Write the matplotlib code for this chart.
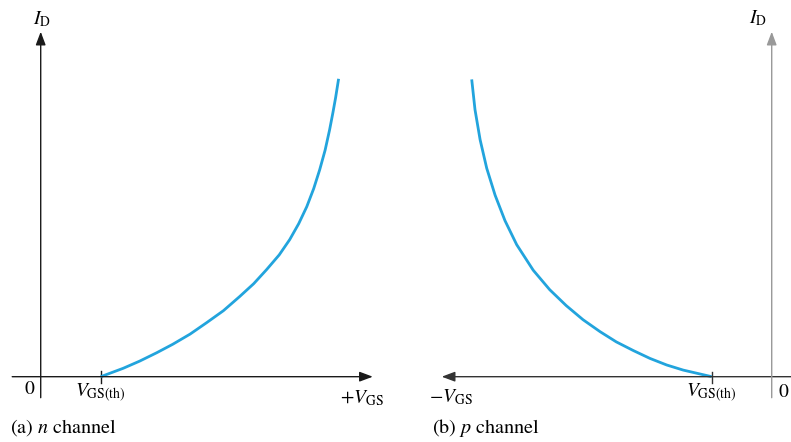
import matplotlib
matplotlib.use("Agg")
import matplotlib.pyplot as plt

# transfer characteristics, arbitrary units (VGS, ID)
n_vgs = [2.0, 2.75, 3.3, 3.87, 4.4, 4.98, 5.53, 6.09, 6.63, 7.1, 7.53,
         7.95, 8.3, 8.6, 8.87, 9.1, 9.3, 9.48, 9.63, 9.74, 9.83, 9.93]
n_id = [0.0, 0.28, 0.52, 0.8, 1.08, 1.42, 1.8, 2.2, 2.67, 3.1, 3.57,
        4.06, 4.57, 5.1, 5.67, 6.27, 6.9, 7.55, 8.23, 8.8, 9.3, 9.93]

p_vgs = [-2.0, -2.95, -3.5, -4.06, -4.61, -5.18, -5.72, -6.29, -6.85,
         -7.4, -7.95, -8.5, -8.89, -9.22, -9.5, -9.72, -9.89, -10.0]
p_id = [0.0, 0.22, 0.39, 0.61, 0.87, 1.16, 1.5, 1.9, 2.37,
        2.9, 3.55, 4.4, 5.2, 6.05, 6.95, 7.9, 8.9, 9.91]

n_vth = 2.0
p_vth = -2.0

plt.rcParams['mathtext.fontset'] = 'stix'
plt.rcParams['font.family'] = 'STIXGeneral'

curve_color = '#22a4dd'
fs = 14
cap_fs = 14.5

fig = plt.figure(figsize=(7.91, 4.42), dpi=100)
ax1 = fig.add_axes([0, 0, 395 / 791, 1])
ax2 = fig.add_axes([395 / 791, 0, 396 / 791, 1])
for ax in (ax1, ax2):
    ax.axis('off')
    ax.set_ylim(-2.177, 12.557)
ax1.set_xlim(-1.357, 11.81)
ax2.set_xlim(-12.557, 0.643)


def axis_arrow(ax, start, tip, color):
    ax.annotate('', xy=tip, xytext=start,
                arrowprops=dict(arrowstyle='-|>,head_length=0.8,head_width=0.3',
                                lw=1.0, color=color, shrinkA=0, shrinkB=0))


# (a) n channel
axis_arrow(ax1, (-0.95, 0), (11.07, 0), '#1a1a1a')
axis_arrow(ax1, (0, -0.7), (0, 11.5), '#1a1a1a')
ax1.plot([n_vth, n_vth], [-0.2, 0.2], color='#1a1a1a', lw=1.0)
ax1.plot(n_vgs, n_id, color=curve_color, lw=2.0, solid_capstyle='butt',
         solid_joinstyle='round')
ax1.text(-0.39, -0.44, '0', ha='center', va='center', fontsize=fs)
ax1.text(n_vth, -0.54, r'$V_{\mathrm{GS(th)}}$', ha='center', va='center', fontsize=fs)
ax1.text(10.71, -0.71, r'$+V_{\mathrm{GS}}$', ha='center', va='center', fontsize=fs)
ax1.text(0.04, 11.92, r'$I_{\mathrm{D}}$', ha='center', va='center', fontsize=fs)
ax1.text(-1.02, -1.71, r'(a) $n$ channel', ha='left', va='center', fontsize=cap_fs)

# (b) p channel
axis_arrow(ax2, (0.643, 0), (-11.0, 0), '#333333')
axis_arrow(ax2, (0, -0.7), (0, 11.5), '#999999')
ax2.plot([p_vth, p_vth], [-0.2, 0.15], color='#333333', lw=1.0)
ax2.plot(p_vgs, p_id, color=curve_color, lw=2.0, solid_capstyle='butt',
         solid_joinstyle='round')
ax2.text(0.38, -0.51, '0', ha='center', va='center', fontsize=fs)
ax2.text(p_vth, -0.54, r'$V_{\mathrm{GS(th)}}$', ha='center', va='center', fontsize=fs)
ax2.text(-10.69, -0.67, r'$-V_{\mathrm{GS}}$', ha='center', va='center', fontsize=fs)
ax2.text(-0.46, 11.96, r'$I_{\mathrm{D}}$', ha='center', va='center', fontsize=fs)
ax2.text(-11.32, -1.71, r'(b) $p$ channel', ha='left', va='center', fontsize=cap_fs)

fig.savefig('out.png', dpi=100)
